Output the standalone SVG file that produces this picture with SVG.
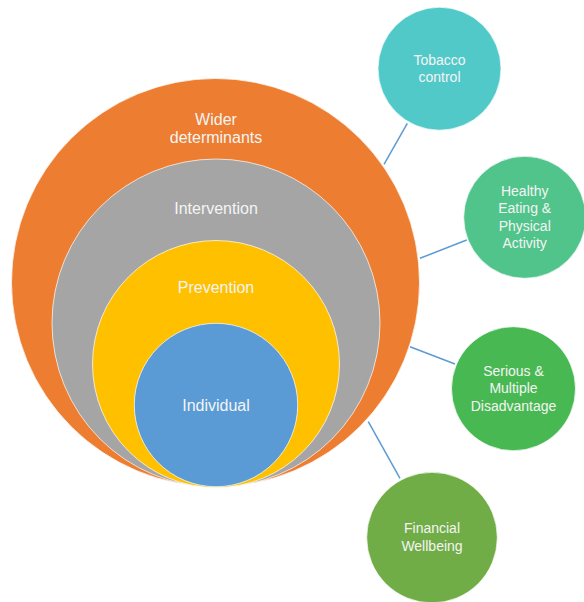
<svg xmlns="http://www.w3.org/2000/svg" width="584" height="602" viewBox="0 0 584 602">
<style>
.c{stroke:#ffffff;stroke-opacity:0.7;stroke-width:1}
.t{font-family:"Liberation Sans",Arial,sans-serif;fill:#f4f4f4;text-anchor:middle}
.big{font-size:16px}
.sm{font-size:14px}
.ln{stroke:#5b9bd5;stroke-width:1.5;fill:none}
</style>
<rect width="584" height="602" fill="#ffffff"/>
<g id="connectors">
<line class="ln" x1="407.3" y1="123.3" x2="384" y2="164.3"/>
<line class="ln" x1="466.7" y1="240" x2="420" y2="258.3"/>
<line class="ln" x1="455" y1="364" x2="410" y2="346.7"/>
<line class="ln" x1="400" y1="478.3" x2="368.3" y2="421.7"/>
</g>
<g id="wider">
<circle class="c" cx="215.5" cy="282.5" r="204" fill="#ed7d31"/>
<text class="t big" x="216" y="125">Wider</text>
<text class="t big" x="216" y="143">determinants</text>
</g>
<g id="intervention">
<circle class="c" cx="216" cy="323" r="164" fill="#a5a5a5"/>
<text class="t big" x="216" y="214">Intervention</text>
</g>
<g id="prevention">
<circle class="c" cx="216" cy="364" r="123.5" fill="#ffc000"/>
<text class="t big" x="216" y="293">Prevention</text>
</g>
<g id="individual">
<circle class="c" cx="216" cy="405" r="81.7" fill="#5b9bd5"/>
<text class="t big" x="216" y="411">Individual</text>
</g>
<g id="tobacco">
<circle class="c" cx="439.5" cy="68.7" r="61.5" fill="#52c9c9"/>
<text class="t sm" x="439.5" y="65">Tobacco</text>
<text class="t sm" x="439.5" y="82">control</text>
</g>
<g id="healthy">
<circle class="c" cx="524.7" cy="217.3" r="61" fill="#50c48b"/>
<text class="t sm" x="524.7" y="196">Healthy</text>
<text class="t sm" x="524.7" y="213.3">Eating &amp;</text>
<text class="t sm" x="524.7" y="230.6">Physical</text>
<text class="t sm" x="524.7" y="248">Activity</text>
</g>
<g id="serious">
<circle class="c" cx="513.5" cy="388.7" r="62" fill="#48b952"/>
<text class="t sm" x="513.5" y="376">Serious &amp;</text>
<text class="t sm" x="513.5" y="393.3">Multiple</text>
<text class="t sm" x="513.5" y="410.7">Disadvantage</text>
</g>
<g id="financial">
<circle class="c" cx="432" cy="537.6" r="65.3" fill="#70ad47"/>
<text class="t sm" x="432" y="533.3">Financial</text>
<text class="t sm" x="432" y="550.7">Wellbeing</text>
</g>
</svg>
